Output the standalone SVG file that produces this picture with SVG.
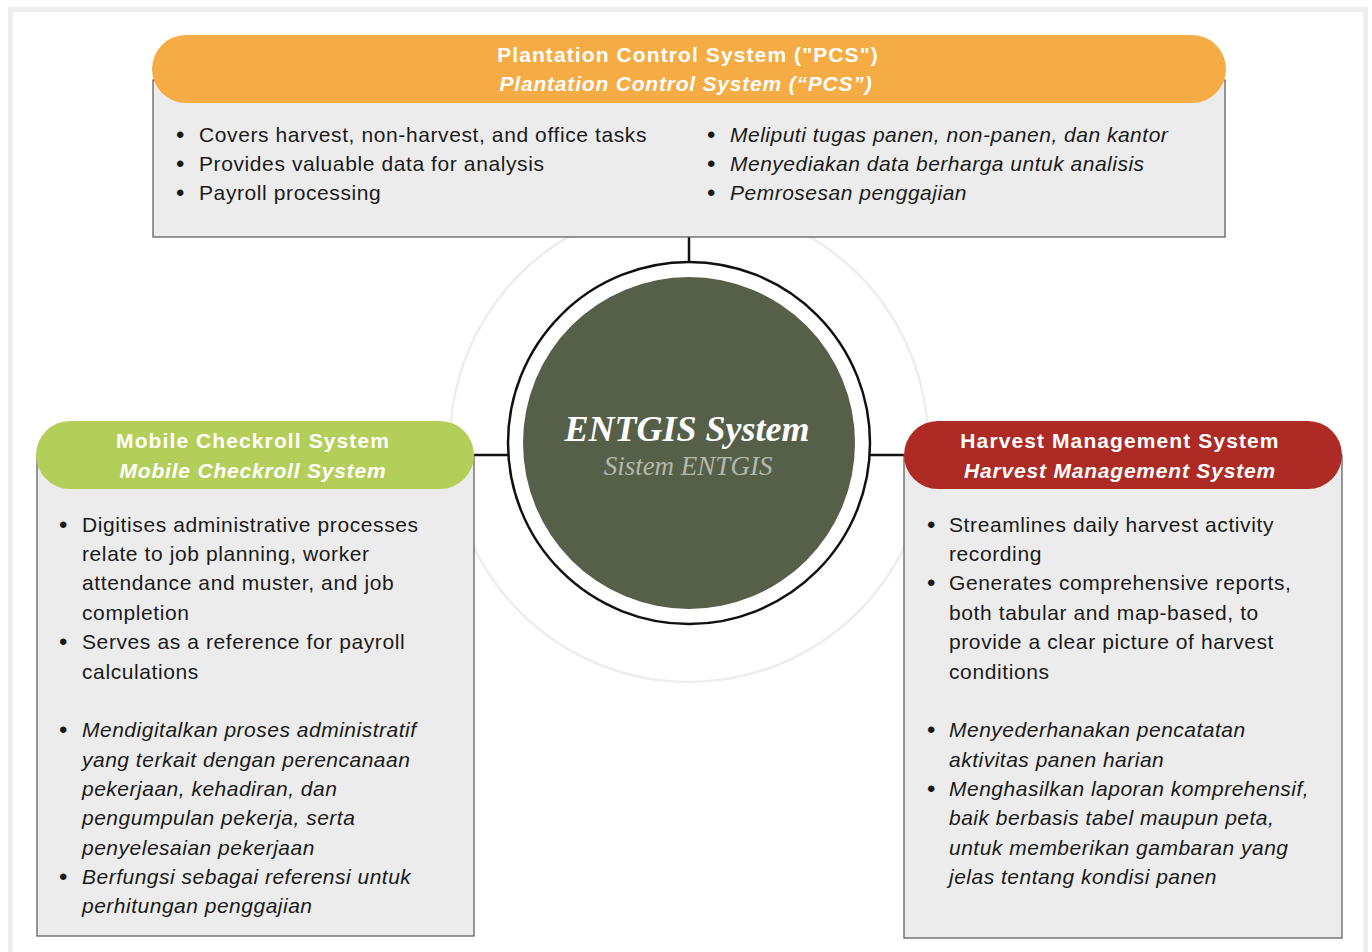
<svg xmlns="http://www.w3.org/2000/svg" width="1372" height="952" viewBox="0 0 1372 952">
<style>
.frame{fill:none;stroke:#eeeeee;stroke-width:5}
.body{fill:#ececec;stroke:#555555;stroke-width:1.2}
.hd{font-family:"Liberation Sans",Arial,sans-serif;font-size:21px;font-weight:bold;fill:#ffffff;text-anchor:middle;letter-spacing:1.1px}
.hdi{font-style:italic;letter-spacing:0.8px}
.t{font-family:"Liberation Sans",Arial,sans-serif;font-size:21px;fill:#1a1a1a;letter-spacing:0.6px}
.i{font-style:italic;letter-spacing:0.5px}
.b{font-family:"Liberation Sans",Arial,sans-serif;font-size:24px;fill:#1a1a1a}
.conn{stroke:#111111;stroke-width:2.5;fill:none}
</style>
<rect x="0" y="0" width="1372" height="952" fill="#ffffff"/>
<rect class="frame" x="10.5" y="9.5" width="1355" height="960"/>
<circle cx="689" cy="443" r="239" fill="none" stroke="#eeeeee" stroke-width="2.5"/>
<g id="connectors">
<line class="conn" x1="689" y1="237" x2="689" y2="263"/>
<line class="conn" x1="474" y1="455" x2="508" y2="455"/>
<line class="conn" x1="870" y1="455" x2="904" y2="455"/>
</g>
<g id="center">
<circle cx="689" cy="443" r="181" fill="#ffffff" stroke="#111111" stroke-width="2.5"/>
<circle cx="689" cy="443" r="166" fill="#566049"/>
<text x="687" y="441" text-anchor="middle" font-family="'Liberation Serif','Times New Roman',serif" font-size="36" font-weight="bold" font-style="italic" fill="#ffffff">ENTGIS System</text>
<text x="688" y="475" text-anchor="middle" font-family="'Liberation Serif','Times New Roman',serif" font-size="27" font-style="italic" fill="#b3b8ad">Sistem ENTGIS</text>
</g>
<g id="pcs">
<rect class="body" x="153" y="80" width="1072" height="157"/>
<rect x="152" y="35" width="1074" height="68" rx="34" fill="#f5ac45"/>
<text class="hd" x="688" y="62">Plantation Control System ("PCS")</text>
<text class="hd hdi" x="686" y="91">Plantation Control System (“PCS”)</text>
<text class="b" x="176" y="143">•</text><text class="t" x="199" y="142">Covers harvest, non-harvest, and office tasks</text>
<text class="b" x="176" y="172">•</text><text class="t" x="199" y="171">Provides valuable data for analysis</text>
<text class="b" x="176" y="201">•</text><text class="t" x="199" y="200">Payroll processing</text>
<text class="b" x="707" y="143">•</text><text class="t i" x="730" y="142">Meliputi tugas panen, non-panen, dan kantor</text>
<text class="b" x="707" y="172">•</text><text class="t i" x="730" y="171">Menyediakan data berharga untuk analisis</text>
<text class="b" x="707" y="201">•</text><text class="t i" x="730" y="200">Pemrosesan penggajian</text>
</g>
<g id="mobile">
<rect class="body" x="37" y="455" width="437" height="481"/>
<rect x="36" y="421" width="438" height="68" rx="34" fill="#b3cf5a"/>
<text class="hd" x="253" y="448">Mobile Checkroll System</text>
<text class="hd hdi" x="253" y="478">Mobile Checkroll System</text>
<text class="b" x="59" y="533">•</text><text class="t" x="82" y="532">Digitises administrative processes</text>
<text class="t" x="82" y="561">relate to job planning, worker</text>
<text class="t" x="82" y="590">attendance and muster, and job</text>
<text class="t" x="82" y="620">completion</text>
<text class="b" x="59" y="650">•</text><text class="t" x="82" y="649">Serves as a reference for payroll</text>
<text class="t" x="82" y="679">calculations</text>
<text class="b" x="59" y="738">•</text><text class="t i" x="82" y="737">Mendigitalkan proses administratif</text>
<text class="t i" x="82" y="767">yang terkait dengan perencanaan</text>
<text class="t i" x="82" y="796">pekerjaan, kehadiran, dan</text>
<text class="t i" x="82" y="825">pengumpulan pekerja, serta</text>
<text class="t i" x="82" y="855">penyelesaian pekerjaan</text>
<text class="b" x="59" y="885">•</text><text class="t i" x="82" y="884">Berfungsi sebagai referensi untuk</text>
<text class="t i" x="82" y="913">perhitungan penggajian</text>
</g>
<g id="harvest">
<rect class="body" x="904" y="455" width="438" height="483"/>
<rect x="904" y="421" width="438" height="68" rx="34" fill="#ad2a25"/>
<text class="hd" x="1120" y="448">Harvest Management System</text>
<text class="hd hdi" x="1120" y="478">Harvest Management System</text>
<text class="b" x="927" y="533">•</text><text class="t" x="949" y="532">Streamlines daily harvest activity</text>
<text class="t" x="949" y="561">recording</text>
<text class="b" x="927" y="591">•</text><text class="t" x="949" y="590">Generates comprehensive reports,</text>
<text class="t" x="949" y="620">both tabular and map-based, to</text>
<text class="t" x="949" y="649">provide a clear picture of harvest</text>
<text class="t" x="949" y="679">conditions</text>
<text class="b" x="927" y="738">•</text><text class="t i" x="949" y="737">Menyederhanakan pencatatan</text>
<text class="t i" x="949" y="767">aktivitas panen harian</text>
<text class="b" x="927" y="797">•</text><text class="t i" x="949" y="796">Menghasilkan laporan komprehensif,</text>
<text class="t i" x="949" y="825">baik berbasis tabel maupun peta,</text>
<text class="t i" x="949" y="855">untuk memberikan gambaran yang</text>
<text class="t i" x="949" y="884">jelas tentang kondisi panen</text>
</g>
</svg>
